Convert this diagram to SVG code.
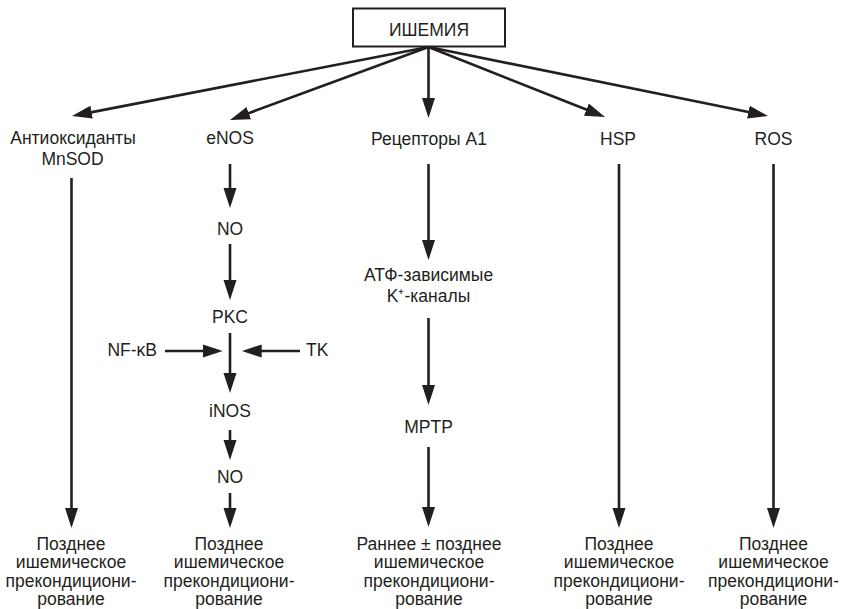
<svg xmlns="http://www.w3.org/2000/svg" width="843" height="609" viewBox="0 0 843 609">
<style>
text{font-family:"Liberation Sans",Arial,sans-serif;font-size:17.5px;fill:#231f20;text-anchor:middle}
.c line{stroke:#231f20;stroke-width:2.6;fill:none}
.arr{marker-end:url(#ah)}
.box{fill:#fff;stroke:#231f20;stroke-width:2}
</style>
<defs>
<marker id="ah" markerUnits="userSpaceOnUse" markerWidth="20" markerHeight="14" refX="10" refY="6.5" orient="auto" viewBox="0 0 20 13">
<path d="M0,0 L20,6.5 L0,13 z" fill="#231f20"/>
</marker>
</defs>
<rect width="843" height="609" fill="#fff"/>
<g id="connectors" class="c">
<line class="arr" x1="428.5" y1="47" x2="81.8" y2="114.1"/>
<line class="arr" x1="428.5" y1="47" x2="239.4" y2="116.6"/>
<line class="arr" x1="428.5" y1="47" x2="428.5" y2="108"/>
<line class="arr" x1="428.5" y1="47" x2="595.7" y2="113.3"/>
<line class="arr" x1="428.5" y1="47" x2="758.2" y2="114"/>
<line class="arr" x1="71.5" y1="178" x2="71.5" y2="518"/>
<line class="arr" x1="230" y1="164" x2="230" y2="198"/>
<line class="arr" x1="230" y1="244" x2="230" y2="290"/>
<line class="arr" x1="230" y1="333" x2="230" y2="383"/>
<line class="arr" x1="165" y1="351" x2="212.7" y2="351"/>
<line class="arr" x1="300" y1="351" x2="251.7" y2="351"/>
<line class="arr" x1="230" y1="430" x2="230" y2="450"/>
<line class="arr" x1="230" y1="493" x2="230" y2="518"/>
<line class="arr" x1="428.5" y1="164" x2="428.5" y2="250"/>
<line class="arr" x1="428.5" y1="318" x2="428.5" y2="395"/>
<line class="arr" x1="428.5" y1="447" x2="428.5" y2="517"/>
<line class="arr" x1="619" y1="164" x2="619" y2="518"/>
<line class="arr" x1="773.5" y1="164" x2="773.5" y2="518"/>
</g>
<g id="ischemia"><rect class="box" x="353" y="8.5" width="152" height="38"/><text x="429" y="36">ИШЕМИЯ</text></g>
<g id="antiox"><text x="73" y="144">Антиоксиданты</text><text x="72.5" y="165">MnSOD</text></g>
<g id="enos"><text x="230" y="144">eNOS</text></g>
<g id="a1"><text x="429" y="145">Рецепторы А1</text></g>
<g id="hsp"><text x="618" y="145">HSP</text></g>
<g id="ros"><text x="773.5" y="145">ROS</text></g>
<g id="no1"><text x="230" y="235">NO</text></g>
<g id="pkc"><text x="230" y="323">PKC</text></g>
<g id="nfkb"><text x="157" y="356" style="text-anchor:end">NF-κB</text></g>
<g id="tk"><text x="306" y="356" style="text-anchor:start">TK</text></g>
<g id="inos"><text x="230" y="417">iNOS</text></g>
<g id="no2"><text x="230" y="483">NO</text></g>
<g id="katp"><text x="428.5" y="280.5">АТФ-зависимые</text><text x="428.5" y="301.5">K⁺-каналы</text></g>
<g id="mptp"><text x="428.5" y="433">MPTP</text></g>
<g id="late1"><text x="71" y="550">Позднее</text><text x="71" y="568.3">ишемическое</text><text x="71" y="586.7">прекондициони-</text><text x="71" y="605">рование</text></g>
<g id="late2"><text x="229" y="550">Позднее</text><text x="229" y="568.3">ишемическое</text><text x="229" y="586.7">прекондициони-</text><text x="229" y="605">рование</text></g>
<g id="early"><text x="429" y="550">Раннее ± позднее</text><text x="429" y="568.3">ишемическое</text><text x="429" y="586.7">прекондициони-</text><text x="429" y="605">рование</text></g>
<g id="late3"><text x="619" y="550">Позднее</text><text x="619" y="568.3">ишемическое</text><text x="619" y="586.7">прекондициони-</text><text x="619" y="605">рование</text></g>
<g id="late4"><text x="773.5" y="550">Позднее</text><text x="773.5" y="568.3">ишемическое</text><text x="773.5" y="586.7">прекондициони-</text><text x="773.5" y="605">рование</text></g>
</svg>
